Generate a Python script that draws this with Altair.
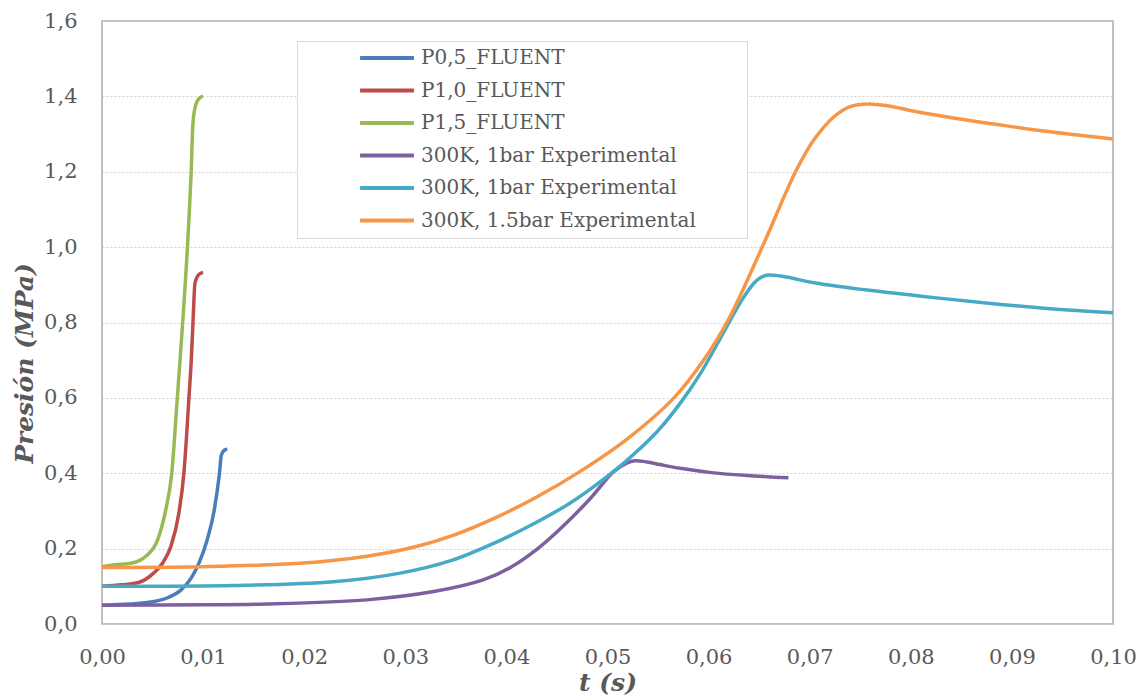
import altair as alt
import pandas as pd

# ---------------- data ----------------
series_keys = ["a", "b", "c", "d", "e", "f"]
series_labels = [
    "P0,5_FLUENT",
    "P1,0_FLUENT",
    "P1,5_FLUENT",
    "300K, 1bar Experimental",
    "300K, 1bar Experimental",
    "300K, 1.5bar Experimental",
]
series_colors = ["#4a7ebb", "#be4b48", "#98b954", "#7d60a0", "#46aac5", "#f79646"]
fluent_keys = ["a", "b", "c"]

t_p05 = [0.0, 0.0027, 0.0050, 0.0066, 0.0078, 0.0088, 0.0096, 0.0104, 0.0111, 0.01162, 0.0118, 0.0121, 0.0124]
p_p05 = [0.050, 0.053, 0.059, 0.071, 0.090, 0.121, 0.162, 0.223, 0.302, 0.400, 0.448, 0.461, 0.464]

t_p10 = [0.0, 0.0020, 0.0036, 0.0051, 0.0060, 0.0068, 0.0076, 0.0081, 0.0086, 0.00883, 0.0090, 0.0092, 0.0096, 0.0100]
p_p10 = [0.100, 0.104, 0.110, 0.135, 0.162, 0.205, 0.294, 0.400, 0.600, 0.700, 0.800, 0.905, 0.928, 0.933]

t_p15 = [0.0, 0.0013, 0.0030, 0.0043, 0.0055, 0.0063, 0.0069, 0.00745, 0.00772, 0.00798, 0.00845, 0.00882, 0.0090, 0.0093, 0.0097, 0.0100]
p_p15 = [0.152, 0.157, 0.162, 0.179, 0.223, 0.302, 0.400, 0.600, 0.700, 0.800, 1.000, 1.200, 1.330, 1.380, 1.397, 1.400]

t_exp1a = [0.0, 0.0100, 0.0163, 0.0262, 0.0328, 0.0377, 0.0404, 0.0431, 0.0457, 0.0483, 0.0506, 0.0519, 0.0527,
           0.0539, 0.0552, 0.0572, 0.0605, 0.0638, 0.0679]
p_exp1a = [0.050, 0.051, 0.053, 0.064, 0.086, 0.117, 0.150, 0.200, 0.262, 0.333, 0.404, 0.427, 0.433,
           0.430, 0.423, 0.413, 0.401, 0.394, 0.388]

t_exp1b = [0.0, 0.0130, 0.0229, 0.0295, 0.0345, 0.0394, 0.0427, 0.0460, 0.0480, 0.0516, 0.0549, 0.0572, 0.0592,
           0.0611, 0.0633, 0.0645, 0.0652, 0.0659, 0.0674, 0.0707, 0.0757, 0.0823, 0.0889, 0.0955, 0.1000]
p_exp1b = [0.100, 0.102, 0.112, 0.135, 0.168, 0.222, 0.266, 0.316, 0.352, 0.427, 0.510, 0.586, 0.665,
           0.755, 0.860, 0.905, 0.920, 0.926, 0.922, 0.904, 0.886, 0.866, 0.848, 0.833, 0.826]

t_exp15 = [0.0, 0.0097, 0.0196, 0.0262, 0.0310, 0.0350, 0.0390, 0.0430, 0.0473, 0.0520, 0.0565, 0.0595,
           0.0620, 0.0653, 0.0686, 0.0704, 0.0724, 0.0740, 0.0758, 0.0777, 0.0806, 0.0839,
           0.0889, 0.0938, 0.1000]
p_exp15 = [0.150, 0.152, 0.161, 0.180, 0.205, 0.238, 0.283, 0.337, 0.405, 0.492, 0.598, 0.700,
           0.810, 1.000, 1.200, 1.284, 1.346, 1.373, 1.380, 1.375, 1.359, 1.344,
           1.324, 1.306, 1.287]

x_ticks = [0.00, 0.01, 0.02, 0.03, 0.04, 0.05, 0.06, 0.07, 0.08, 0.09, 0.10]
y_ticks = [0.0, 0.2, 0.4, 0.6, 0.8, 1.0, 1.2, 1.4, 1.6]
x_title = "t (s)"
y_title = "Presión (MPa)"

# ---------------- build table ----------------
all_t = [t_p05, t_p10, t_p15, t_exp1a, t_exp1b, t_exp15]
all_p = [p_p05, p_p10, p_p15, p_exp1a, p_exp1b, p_exp15]
rows = []
for key, ts, ps in zip(series_keys, all_t, all_p):
    for i, (t, p) in enumerate(zip(ts, ps)):
        rows.append({"serie": key, "t": t, "p": p, "i": i, "fluent": key in fluent_keys})
df = pd.DataFrame(rows)

# trailing blank space inside the legend box (kept from being trimmed by a zero-width char)
pad = "\u00a0" * 7 + "\u200c"
label_expr = " : ".join(
    f"datum.value == '{k}' ? '{lbl}{pad}'" for k, lbl in zip(series_keys, series_labels)
) + " : datum.value"

SERIF = "DejaVu Serif"
GREY = "#595959"

legend = alt.Legend(
    orient="none",
    legendX=195,
    legendY=20,
    title=None,
    labelExpr=label_expr,
    labelFont=SERIF,
    labelFontSize=20,
    labelColor=GREY,
    labelLimit=900,
    labelOffset=5,
    symbolType="stroke",
    symbolStrokeWidth=4,
    symbolSize=2900,
    symbolOffset=55,
    clipHeight=22,
    rowPadding=10.5,
    padding=6,
    strokeColor="#d9d9d9",
    fillColor="white",
)

x_enc = alt.X(
    "t:Q",
    scale=alt.Scale(domain=[x_ticks[0], x_ticks[-1]], nice=False, zero=False),
    axis=alt.Axis(
        title=x_title,
        values=x_ticks,
        labelExpr="replace(format(datum.value, '.2f'), '.', ',')",
        grid=False,
        ticks=False,
        domain=False,
        labelPadding=22,
        titlePadding=3,
        labelFlush=False,
    ),
)
y_enc = alt.Y(
    "p:Q",
    scale=alt.Scale(domain=[y_ticks[0], y_ticks[-1]], nice=False),
    axis=alt.Axis(
        title=y_title,
        values=y_ticks,
        labelExpr="replace(format(datum.value, '.1f'), '.', ',')",
        grid=True,
        ticks=False,
        domain=False,
        labelPadding=25,
        titleAngle=270,
        titleAlign="center",
        titleBaseline="bottom",
        titleX=-65,
        titleY=342,
    ),
)
color_enc = alt.Color(
    "serie:N",
    scale=alt.Scale(domain=series_keys, range=series_colors),
    legend=legend,
)

base = alt.Chart(df).encode(x=x_enc, y=y_enc, color=color_enc, order="i:Q")

fluent_lines = base.transform_filter("datum.fluent").mark_line(strokeWidth=3.5, interpolate="monotone")
exp_lines = base.transform_filter("!datum.fluent").mark_line(strokeWidth=3.5, interpolate="catmull-rom")

chart = (
    alt.layer(fluent_lines, exp_lines)
    .properties(
        width=1011,
        height=603,
        autosize=alt.AutoSizeParams(type="none"),
        padding={"left": 102, "top": 21, "right": 28, "bottom": 73},
    )
    .configure_view(stroke="#bfbfbf", strokeWidth=2)
    .configure_axis(
        labelFont=SERIF,
        labelFontSize=21,
        labelColor=GREY,
        titleFont=SERIF,
        titleFontSize=25,
        titleFontStyle="italic",
        titleFontWeight="bold",
        titleColor=GREY,
        gridColor="#d0d0d0",
        gridDash=[2, 2],
        gridWidth=1,
    )
)

chart.save("out.html", embed_options={"renderer": "svg", "actions": False})
